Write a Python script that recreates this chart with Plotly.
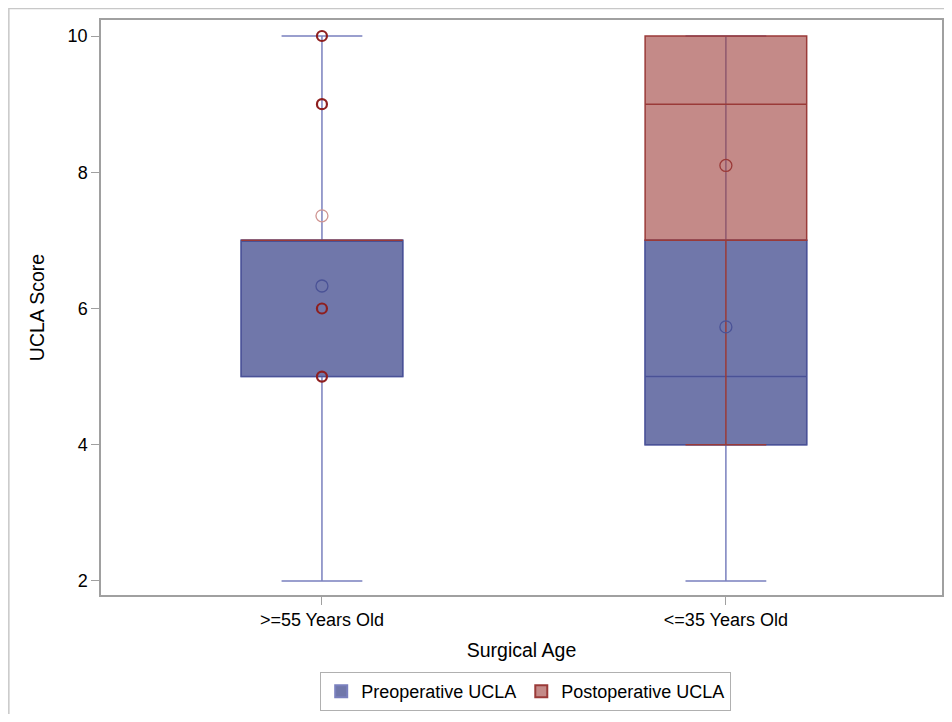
import plotly.graph_objects as go

categories = [">=55 Years Old", "<=35 Years Old"]

pre_q1 = [5, 4]
pre_median = [7, 5]
pre_q3 = [7, 7]
pre_low = [2, 2]
pre_high = [10, 10]
pre_mean = [6.33, 5.73]

post_q1 = [7, 7]
post_median = [7, 9]
post_q3 = [7, 10]
post_low = [7, 4]
post_high = [7, 10]
post_mean = [7.36, 8.1]

post_outlier_x = [">=55 Years Old"] * 4
post_outlier_y = [10, 9, 6, 5]

W, H = 944, 706
L, R, T, B = 93, 10, 12, 119
PW, PH = W - L - R, H - T - B

fig = go.Figure()

fig.add_trace(go.Box(
    name="Preoperative UCLA", x=categories,
    q1=pre_q1, median=pre_median, q3=pre_q3,
    lowerfence=pre_low, upperfence=pre_high,
    width=0.4, whiskerwidth=0.5,
    fillcolor="rgba(64,74,142,0.75)",
    line=dict(color="#7A80BE", width=1.5),
    boxpoints=False, hoverinfo="skip",
))
fig.add_trace(go.Box(
    name="Preoperative UCLA", x=categories, showlegend=False,
    q1=pre_q1, median=pre_median, q3=pre_q3,
    lowerfence=pre_q1, upperfence=pre_q3,
    width=0.4, whiskerwidth=0,
    fillcolor="rgba(0,0,0,0)",
    line=dict(color="#4A5296", width=1.5),
    boxpoints=False, hoverinfo="skip",
))
fig.add_trace(go.Box(
    name="Postoperative UCLA", x=categories,
    q1=post_q1, median=post_median, q3=post_q3,
    lowerfence=post_low, upperfence=post_high,
    width=0.4, whiskerwidth=0.5,
    fillcolor="rgba(157,60,57,0.6)",
    line=dict(color="#9A3A38", width=1.5),
    boxpoints=False, hoverinfo="skip",
))

fig.add_trace(go.Scatter(
    x=categories, y=pre_mean, mode="markers", showlegend=False,
    marker=dict(symbol="circle-open", size=12, color="#4A5296", line=dict(width=1.3)),
))
fig.add_trace(go.Scatter(
    x=categories, y=post_mean, mode="markers", showlegend=False,
    marker=dict(symbol="circle-open", size=12, color=["#CF9592", "#9A3A38"], line=dict(width=1.3)),
))
fig.add_trace(go.Scatter(
    x=post_outlier_x, y=post_outlier_y, mode="markers", showlegend=False,
    marker=dict(symbol="circle-open", size=10, color="#8E1F1F", line=dict(width=2.2)),
))

fig.update_layout(
    width=W, height=H,
    margin=dict(l=L, r=R, t=T, b=B, autoexpand=False),
    paper_bgcolor="white", plot_bgcolor="white",
    boxmode="overlay",
    font=dict(family="Liberation Sans, Arial, sans-serif", size=18, color="#000000"),
    showlegend=True,
    legend=dict(
        orientation="h", x=0.505, xanchor="center", y=-0.134, yanchor="top",
        bordercolor="#B0B0B0", borderwidth=1, font=dict(size=18),
        itemsizing="constant",
    ),
    xaxis=dict(
        type="category", range=[-0.547, 1.535], automargin=False,
        showline=True, linecolor="#A0A0A0", linewidth=1.5, mirror=True,
        ticks="outside", ticklen=8, tickcolor="#A0A0A0",
        showgrid=False, zeroline=False,
        title=dict(text="Surgical Age", font=dict(size=19.5), standoff=14),
        tickfont=dict(size=18),
    ),
    yaxis=dict(
        range=[1.794, 10.235], tickvals=[2, 4, 6, 8, 10], automargin=False,
        showline=True, linecolor="#A0A0A0", linewidth=1.5, mirror=True,
        ticks="outside", ticklen=8, tickcolor="#A0A0A0",
        showgrid=False, zeroline=False,
        title=dict(text="UCLA Score", font=dict(size=19.5), standoff=18),
        tickfont=dict(size=18),
    ),
    shapes=[dict(
        type="rect", xref="paper", yref="paper",
        x0=-L / PW + 0.001, x1=1 + (R + 30) / PW,
        y0=-(B + 40) / PH, y1=1 + T / PH - 0.001,
        line=dict(color="#C8C8C8", width=1.5), fillcolor="rgba(0,0,0,0)",
        layer="below",
    )],
)

fig.write_html("out.html")
